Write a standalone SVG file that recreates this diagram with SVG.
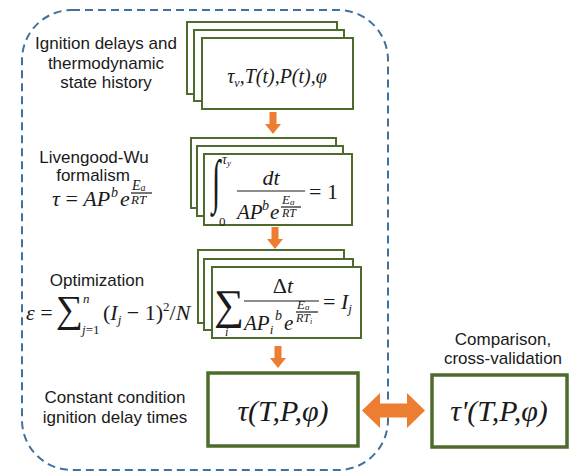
<svg xmlns="http://www.w3.org/2000/svg" width="585" height="472" viewBox="0 0 585 472">
<style>
.lbl{font-family:"Liberation Sans",Arial,sans-serif;font-size:17px;fill:#1a1a1a;text-anchor:middle}
.m{font-family:"Liberation Serif","Times New Roman",serif;fill:#1a1a1a}
.i{font-style:italic}
.stk{fill:#fff;stroke:#4f6b2b;stroke-width:2}
.big{fill:#fff;stroke:#4f6b2b;stroke-width:3.5}
.arr{fill:#ed7d31}
.frame{fill:none;stroke:#41719c;stroke-width:2;stroke-dasharray:8 5}
.fl{stroke:#1a1a1a;stroke-width:1.2}
</style>
<defs>
<path id="down" d="M-3.5,0 h7 v12 h4.5 l-8,10 l-8,-10 h4.5 z"/>
</defs>
<path class="frame" d="M72,10 H338 A50,50 0 0 1 388,60 V420 A50,50 0 0 1 338,470 H72 A50,50 0 0 1 22,420 V60 A50,50 0 0 1 72,10 Z"/>

<g id="label-ignition">
<text class="lbl" x="106" y="49">Ignition delays and</text>
<text class="lbl" x="106" y="68.5">thermodynamic</text>
<text class="lbl" x="106" y="88">state history</text>
</g>
<g id="label-lw">
<text class="lbl" x="94" y="163">Livengood-Wu</text>
<text class="lbl" x="93" y="181">formalism</text>
<text class="m i" x="52" y="206" font-size="22">τ<tspan font-style="normal"> = </tspan>AP</text>
<text class="m i" x="111" y="197" font-size="14">b</text>
<text class="m i" x="120" y="206" font-size="22">e</text>
<text class="m i" x="132" y="190" font-size="14">E<tspan font-size="10" dy="1">a</tspan></text>
<line class="fl" x1="131" y1="193" x2="152" y2="193" stroke-width="0.9"/>
<text class="m i" x="131" y="204" font-size="13">RT</text>
</g>
<g id="label-opt">
<text class="lbl" x="97" y="286">Optimization</text>
<text class="m i" x="26" y="320" font-size="22">ε<tspan font-style="normal"> =</tspan></text>
<text class="m" x="56" y="322" font-size="38">∑</text>
<text class="m i" x="83" y="303" font-size="13">n</text>
<text class="m" x="82" y="334" font-size="13"><tspan font-style="italic">j</tspan>=1</text>
<text class="m" x="103" y="320" font-size="22">(<tspan font-style="italic">I</tspan><tspan font-style="italic" font-size="13" dy="4">j</tspan><tspan dy="-4"> − 1)</tspan><tspan font-size="13" dy="-9">2</tspan><tspan dy="9">/</tspan><tspan font-style="italic">N</tspan></text>
</g>
<g id="label-const">
<text class="lbl" x="115" y="403">Constant condition</text>
<text class="lbl" x="115" y="423">ignition delay times</text>
</g>
<g id="label-comp">
<text class="lbl" x="503" y="345">Comparison,</text>
<text class="lbl" x="503" y="364">cross-validation</text>
</g>

<g id="node-history">
<rect class="stk" x="187" y="22" width="150" height="72"/>
<rect class="stk" x="194" y="30" width="150" height="71"/>
<rect class="stk" x="202" y="38" width="151" height="71"/>
<text class="m i" x="277" y="83" font-size="20" text-anchor="middle">τ<tspan font-size="12" dy="4">v</tspan><tspan dy="-4">,T(t),P(t),φ</tspan></text>
</g>

<g id="node-integral">
<rect class="stk" x="191" y="138" width="145" height="70"/>
<rect class="stk" x="197" y="146" width="146" height="70"/>
<rect class="stk" x="204" y="154" width="148" height="71"/>
<text class="m" x="0" y="0" font-size="36" transform="translate(212,201) scale(0.85,1.65)">∫</text>
<text class="m i" x="222" y="164" font-size="14">τ<tspan font-size="9" dy="2">y</tspan></text>
<text class="m" x="219" y="226" font-size="13">0</text>
<text class="m i" x="271" y="185" font-size="22" text-anchor="middle">dt</text>
<line class="fl" x1="237" y1="191" x2="305" y2="191"/>
<text class="m i" x="237" y="219" font-size="21">AP</text>
<text class="m i" x="262" y="210" font-size="14">b</text>
<text class="m i" x="270" y="219" font-size="21">e</text>
<text class="m i" x="282" y="204" font-size="13">E<tspan font-size="9" dy="1">a</tspan></text>
<line class="fl" x1="281" y1="207" x2="301" y2="207" stroke-width="0.9"/>
<text class="m i" x="282" y="217" font-size="12">RT</text>
<text class="m" x="309" y="199" font-size="22">= 1</text>
</g>

<g id="node-sum">
<rect class="stk" x="198" y="250" width="146" height="73"/>
<rect class="stk" x="204" y="259" width="149" height="71"/>
<rect class="stk" x="212" y="267" width="149" height="71"/>
<text class="m" x="214" y="319" font-size="42">∑</text>
<text class="m i" x="225" y="336" font-size="12">i</text>
<text class="m" x="283" y="293" font-size="22" text-anchor="middle">Δ<tspan font-style="italic">t</tspan></text>
<line class="fl" x1="244" y1="301" x2="319" y2="301"/>
<text class="m i" x="244" y="330" font-size="21">AP<tspan font-size="13" dy="4">i</tspan></text>
<text class="m i" x="275" y="320" font-size="14">b</text>
<text class="m i" x="284" y="330" font-size="21">e</text>
<text class="m i" x="297" y="309" font-size="13">E<tspan font-size="9" dy="1">a</tspan></text>
<line class="fl" x1="296" y1="312" x2="318" y2="312" stroke-width="0.9"/>
<text class="m i" x="296" y="322" font-size="12">RT<tspan font-size="8" dy="2">i</tspan></text>
<text class="m" x="323" y="309" font-size="22">= <tspan font-style="italic">I</tspan><tspan font-style="italic" font-size="13" dy="4">j</tspan></text>
</g>

<g id="node-tau">
<rect class="big" x="208" y="373" width="150" height="73"/>
<text class="m i" x="283" y="421" font-size="30" text-anchor="middle">τ(T,P,φ)</text>
</g>

<g id="node-tau-prime">
<rect class="big" x="432" y="375" width="135" height="72"/>
<text class="m i" x="499" y="421" font-size="30" text-anchor="middle">τ'(T,P,φ)</text>
</g>

<g id="connectors">
<use href="#down" class="arr" x="273" y="112"/>
<use href="#down" class="arr" x="275" y="227"/>
<use href="#down" class="arr" x="278" y="346"/>
<path class="arr" d="M362,410.5 L380,393 V403.5 H407 V393 L425,410.5 L407,428 V417.5 H380 V428 Z"/>
</g>
</svg>
